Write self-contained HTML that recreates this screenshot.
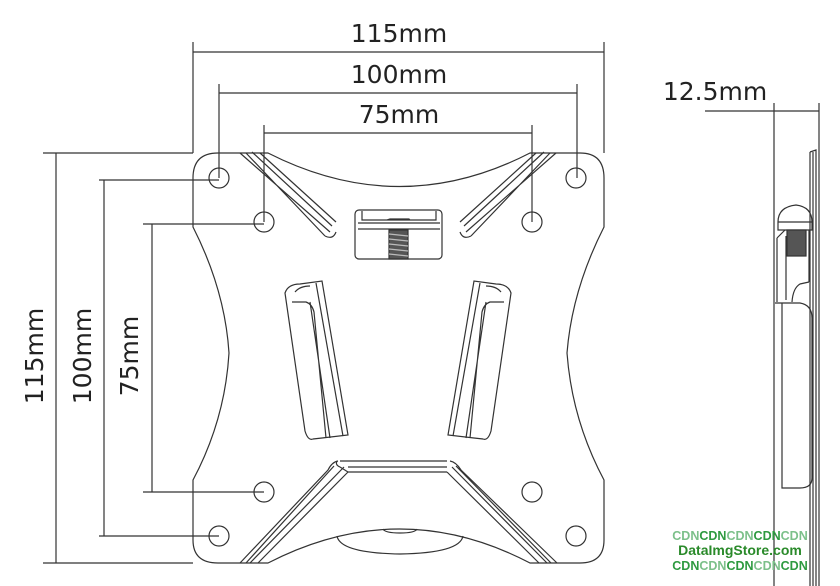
<!DOCTYPE html>
<html><head><meta charset="utf-8"><style>
html,body{margin:0;padding:0;background:#fff;}
svg{display:block;}
.t{font-family:"DejaVu Sans","Liberation Sans",sans-serif;font-size:25px;fill:#222;}
.w{font-family:"Liberation Sans",sans-serif;font-weight:bold;}
</style></head><body>
<svg width="840" height="586" viewBox="0 0 840 586" xmlns="http://www.w3.org/2000/svg">
<g stroke="#333" stroke-width="1.2" fill="none">
<line x1="193" y1="52" x2="604" y2="52"/>
<line x1="193" y1="42" x2="193" y2="153"/>
<line x1="604" y1="42" x2="604" y2="153"/>
<line x1="219" y1="93" x2="577" y2="93"/>
<line x1="219" y1="84" x2="219" y2="178"/>
<line x1="577" y1="84" x2="577" y2="178"/>
<line x1="264" y1="133" x2="532" y2="133"/>
<line x1="264" y1="125" x2="264" y2="222"/>
<line x1="532" y1="125" x2="532" y2="222"/>
<line x1="56" y1="153" x2="56" y2="563"/>
<line x1="43" y1="153" x2="193" y2="153"/>
<line x1="43" y1="563" x2="193" y2="563"/>
<line x1="104" y1="180" x2="104" y2="536"/>
<line x1="99" y1="180" x2="219" y2="180"/>
<line x1="99" y1="536" x2="219" y2="536"/>
<line x1="152" y1="224" x2="152" y2="492"/>
<line x1="143" y1="224" x2="264" y2="224"/>
<line x1="143" y1="492" x2="264" y2="492"/>
<path d="M218 153 L268 153 Q400 220 530 153 L580 153 Q604 153 604 178 L604 227 Q572 290 567 353 Q572 420 604 480 L604 540 Q604 563 580 563 L530 563 Q400 495 268 563 L218 563 Q193 563 193 540 L193 480 Q225 420 229 353 Q225 290 193 227 L193 178 Q193 153 218 153 Z"/>
<circle cx="219" cy="178" r="10"/><circle cx="576" cy="178" r="10"/>
<circle cx="264" cy="222" r="10"/><circle cx="532" cy="222" r="10"/>
<circle cx="264" cy="492" r="10"/><circle cx="532" cy="492" r="10"/>
<circle cx="219" cy="536" r="10"/><circle cx="576" cy="536" r="10"/>
<path d="M240 153 L330 232 M252 152 L332 226 M260 153 L336 222 M246 153 L325 236"/>
<path d="M325 236 Q333 240 336 232"/>
<path d="M556 153 L466 232 M544 152 L464 226 M536 153 L460 222 M550 153 L471 236"/>
<path d="M471 236 Q463 240 460 232"/>
<rect x="355" y="210" width="87" height="49" rx="4"/>
<path d="M362 211 L362 220 L436 220 L436 211 M358 223 L440 223 M358 229 L440 229 M387 220 L390 219 L409 219 L410 220"/>
<rect x="389" y="230" width="19" height="29" fill="#555"/>
<path d="M389 234 L408 236 M389 239 L408 241 M389 244 L408 246 M389 249 L408 251 M389 254 L408 256" stroke="#bbb"/>
<path d="M285 293 Q288 284 300 284 L322 281 L348 435 L322 438 L313 439 Q308 441 305 431 Z"/>
<path d="M295 292 Q300 286 310 286 M292 302 L306 302 Q312 304 314 312 L326 438 M316 283 L343 436 M310 302 L330 438"/>
<path d="M511 293 Q508 284 496 284 L474 281 L448 435 L474 438 L483 439 Q488 441 491 431 Z"/>
<path d="M501 292 Q496 286 486 286 M504 302 L490 302 Q484 304 482 312 L470 438 M480 283 L453 436 M486 302 L466 438"/>
<path d="M340 461 L447 461 M348 467 L447 467 M348 472 L447 472 M337 461 Q335 465 340 467 L348 472"/>
<path d="M338 461 Q332 462 328 470 L240 563 M344 467 L250 563 M348 472 L258 563 M334 466 L246 563"/>
<path d="M450 461 Q456 462 461 470 L557 563 M452 467 L547 563 M447 472 L539 563 M456 466 L551 563"/>
<path d="M337 536 Q340 553 400 554 Q460 553 463 536"/>
<path d="M383 529 Q385 533 400 533 Q415 533 417 529"/>
<line x1="705" y1="111" x2="819" y2="111"/>
<line x1="774" y1="103" x2="774" y2="586"/>
<line x1="819" y1="103" x2="819" y2="586"/>
<path d="M810 152 L816 150 L816 586 M810 152 L810 586 M813 152 L813 586"/>
<path d="M778 222 Q778 207 796 205 Q812 207 812 222 Z M778 222 L778 230 L812 230 L812 222"/>
<rect x="787" y="230" width="19" height="26" fill="#555"/>
<path d="M777 238 L785 230 M786 236 L786 300 M777 238 L777 302 M809 230 L809 282 M809 282 L800 284 Q793 288 792 302"/>
<path d="M775 303 L800 303 Q812 305 812 318 L812 478 Q812 488 800 488 L782 488 L782 303"/>
</g>
<g class="t">
<text x="399" y="42" text-anchor="middle">115mm</text>
<text x="399" y="83" text-anchor="middle">100mm</text>
<text x="399" y="123" text-anchor="middle">75mm</text>
<text x="715" y="100" text-anchor="middle">12.5mm</text>
<text transform="translate(43 356) rotate(-90)" text-anchor="middle">115mm</text>
<text transform="translate(91 356) rotate(-90)" text-anchor="middle">100mm</text>
<text transform="translate(138 356) rotate(-90)" text-anchor="middle">75mm</text>
</g>
<g class="w" text-anchor="middle">
<text x="740" y="540" font-size="12.5"><tspan fill="#7cc08a">CDN</tspan><tspan fill="#2e9a40">CDN</tspan><tspan fill="#7cc08a">CDN</tspan><tspan fill="#2e9a40">CDN</tspan><tspan fill="#7cc08a">CDN</tspan></text>
<text x="740" y="555" font-size="14" fill="#2a8a2a">DataImgStore.com</text>
<text x="740" y="570" font-size="12.5"><tspan fill="#2e9a40">CDN</tspan><tspan fill="#7cc08a">CDN</tspan><tspan fill="#2e9a40">CDN</tspan><tspan fill="#7cc08a">CDN</tspan><tspan fill="#2e9a40">CDN</tspan></text>
</g>
</svg>
</body></html>
